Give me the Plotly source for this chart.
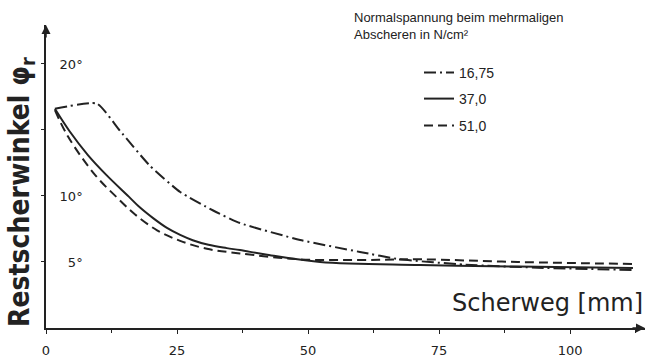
import plotly.graph_objects as go

# ---- data ----
x_a = [1.7, 9.7, 14.1, 19.8, 25.6, 31.9, 37.0, 48.5, 59.9, 67.6, 80.0, 95.0, 112.0]
y_a = [16.6, 17.0, 14.95, 12.3, 10.3, 8.9, 7.95, 6.67, 5.76, 5.2, 4.8, 4.55, 4.4]

x_b = [1.7, 4.5, 8.0, 11.5, 15.8, 18.0, 20.5, 23.0, 25.6, 28.0, 31.0, 34.5, 37.0, 42.2, 52.3, 71.4, 90.0, 112.0]
y_b = [16.6, 14.9, 13.1, 11.6, 9.95, 9.1, 8.3, 7.6, 7.05, 6.65, 6.3, 6.05, 5.9, 5.55, 5.0, 4.77, 4.65, 4.55]

x_c = [1.7, 4.2, 9.35, 13.5, 17.0, 21.2, 25.6, 30.7, 37.0, 48.5, 59.9, 71.4, 90.0, 112.0]
y_c = [16.5, 14.5, 11.6, 9.9, 8.6, 7.4, 6.6, 6.0, 5.65, 5.2, 5.15, 5.2, 5.0, 4.85]

series_names = ["16,75", "37,0", "51,0"]
x_ticks = [0, 25, 50, 75, 100]
y_ticks = [5, 10, 15, 20]
y_ticktext = ["5°", "10°", "", "20°"]

INK = "#222222"
W, H = 649, 359
ML, MR, MT, MB = 46, 4, 25, 31
pw = W - ML - MR
ph = H - MT - MB

def py(pix):  # pixel row -> paper y
    return (H - MB - pix) / ph

def px(pix):  # pixel col -> paper x
    return (pix - ML) / pw

fig = go.Figure()
styles = [
    dict(dash="12px,4px,2px,4px", smoothing=0.5),
    dict(dash="solid", smoothing=1.0),
    dict(dash="9px,5px", smoothing=1.0),
]
legs = ["legend", "legend2", "legend3"]
for xs, ys, nm, st, lg in zip([x_a, x_b, x_c], [y_a, y_b, y_c], series_names, styles, legs):
    fig.add_trace(go.Scatter(
        x=xs, y=ys, name=nm, mode="lines",
        line=dict(color=INK, width=2, shape="spline", **st),
        legend=lg, showlegend=True,
    ))

leg_common = dict(
    font=dict(family="Liberation Sans, Arial, sans-serif", size=14, color=INK),
    bgcolor="rgba(0,0,0,0)", borderwidth=0,
    xanchor="left", yanchor="middle",
)
fig.update_layout(
    width=W, height=H,
    margin=dict(l=ML, r=MR, t=MT, b=MB, pad=0),
    paper_bgcolor="white", plot_bgcolor="white",
    template=None,
    legend=dict(x=px(419), y=py(73), **leg_common),
    legend2=dict(x=px(419), y=py(99), **leg_common),
    legend3=dict(x=px(419), y=py(126), **leg_common),
    xaxis=dict(
        range=[0, 114.3], showgrid=False, zeroline=False,
        showline=True, linecolor=INK, linewidth=1.5,
        tickvals=x_ticks, ticks="outside", ticklen=4, tickcolor=INK, tickwidth=1.2,
        minor=dict(dtick=12.5, tick0=0, ticks="outside", ticklen=3, tickcolor=INK),
        tickfont=dict(family="DejaVu Sans", size=13, color=INK),
        ticklabelstandoff=6, ticklabeloverflow="allow", automargin=False,
    ),
    yaxis=dict(
        range=[0, 22.95], showgrid=False, zeroline=False,
        showline=True, linecolor=INK, linewidth=1.5,
        tickvals=y_ticks, ticktext=y_ticktext,
        ticks="outside", ticklen=3, tickcolor=INK, tickwidth=1.2,
        ticklabelposition="outside", ticklabelstandoff=-44, ticklabeloverflow="allow",
        tickfont=dict(family="DejaVu Sans", size=13, color=INK),
        automargin=False,
    ),
)

# axis arrows
fig.add_annotation(x=1, y=0, xref="paper", yref="paper", ax=-14, ay=0,
                   axref="pixel", ayref="pixel", text="", showarrow=True,
                   arrowhead=2, arrowsize=1.2, arrowwidth=1.5, arrowcolor=INK, standoff=0)
fig.add_annotation(x=0, y=1, xref="paper", yref="paper", ax=0, ay=14,
                   axref="pixel", ayref="pixel", text="", showarrow=True,
                   arrowhead=2, arrowsize=1.2, arrowwidth=1.5, arrowcolor=INK, standoff=0)

# axis titles
fig.add_annotation(x=1, y=py(303), xref="paper", yref="paper", xanchor="right", yanchor="middle",
                   text="Scherweg [mm]", showarrow=False,
                   font=dict(family="DejaVu Sans", size=24, color=INK))
fig.add_annotation(x=px(21), y=py(192), xref="paper", yref="paper", xanchor="center", yanchor="middle",
                   text="<b>Restscherwinkel φ<sub>r</sub></b>", textangle=-90, showarrow=False,
                   font=dict(family="DejaVu Sans Condensed, DejaVu Sans", size=28, color=INK))

# legend heading
fig.add_annotation(x=px(352), y=py(8), xref="paper", yref="paper", xanchor="left", yanchor="top",
                   align="left", showarrow=False,
                   text="Normalspannung beim mehrmaligen<br>Abscheren in N/cm²",
                   font=dict(family="Liberation Sans, Arial, sans-serif", size=13, color=INK))

fig.write_html("out.html", config={"displayModeBar": False},
               post_script="document.body.style.margin='0px';")
